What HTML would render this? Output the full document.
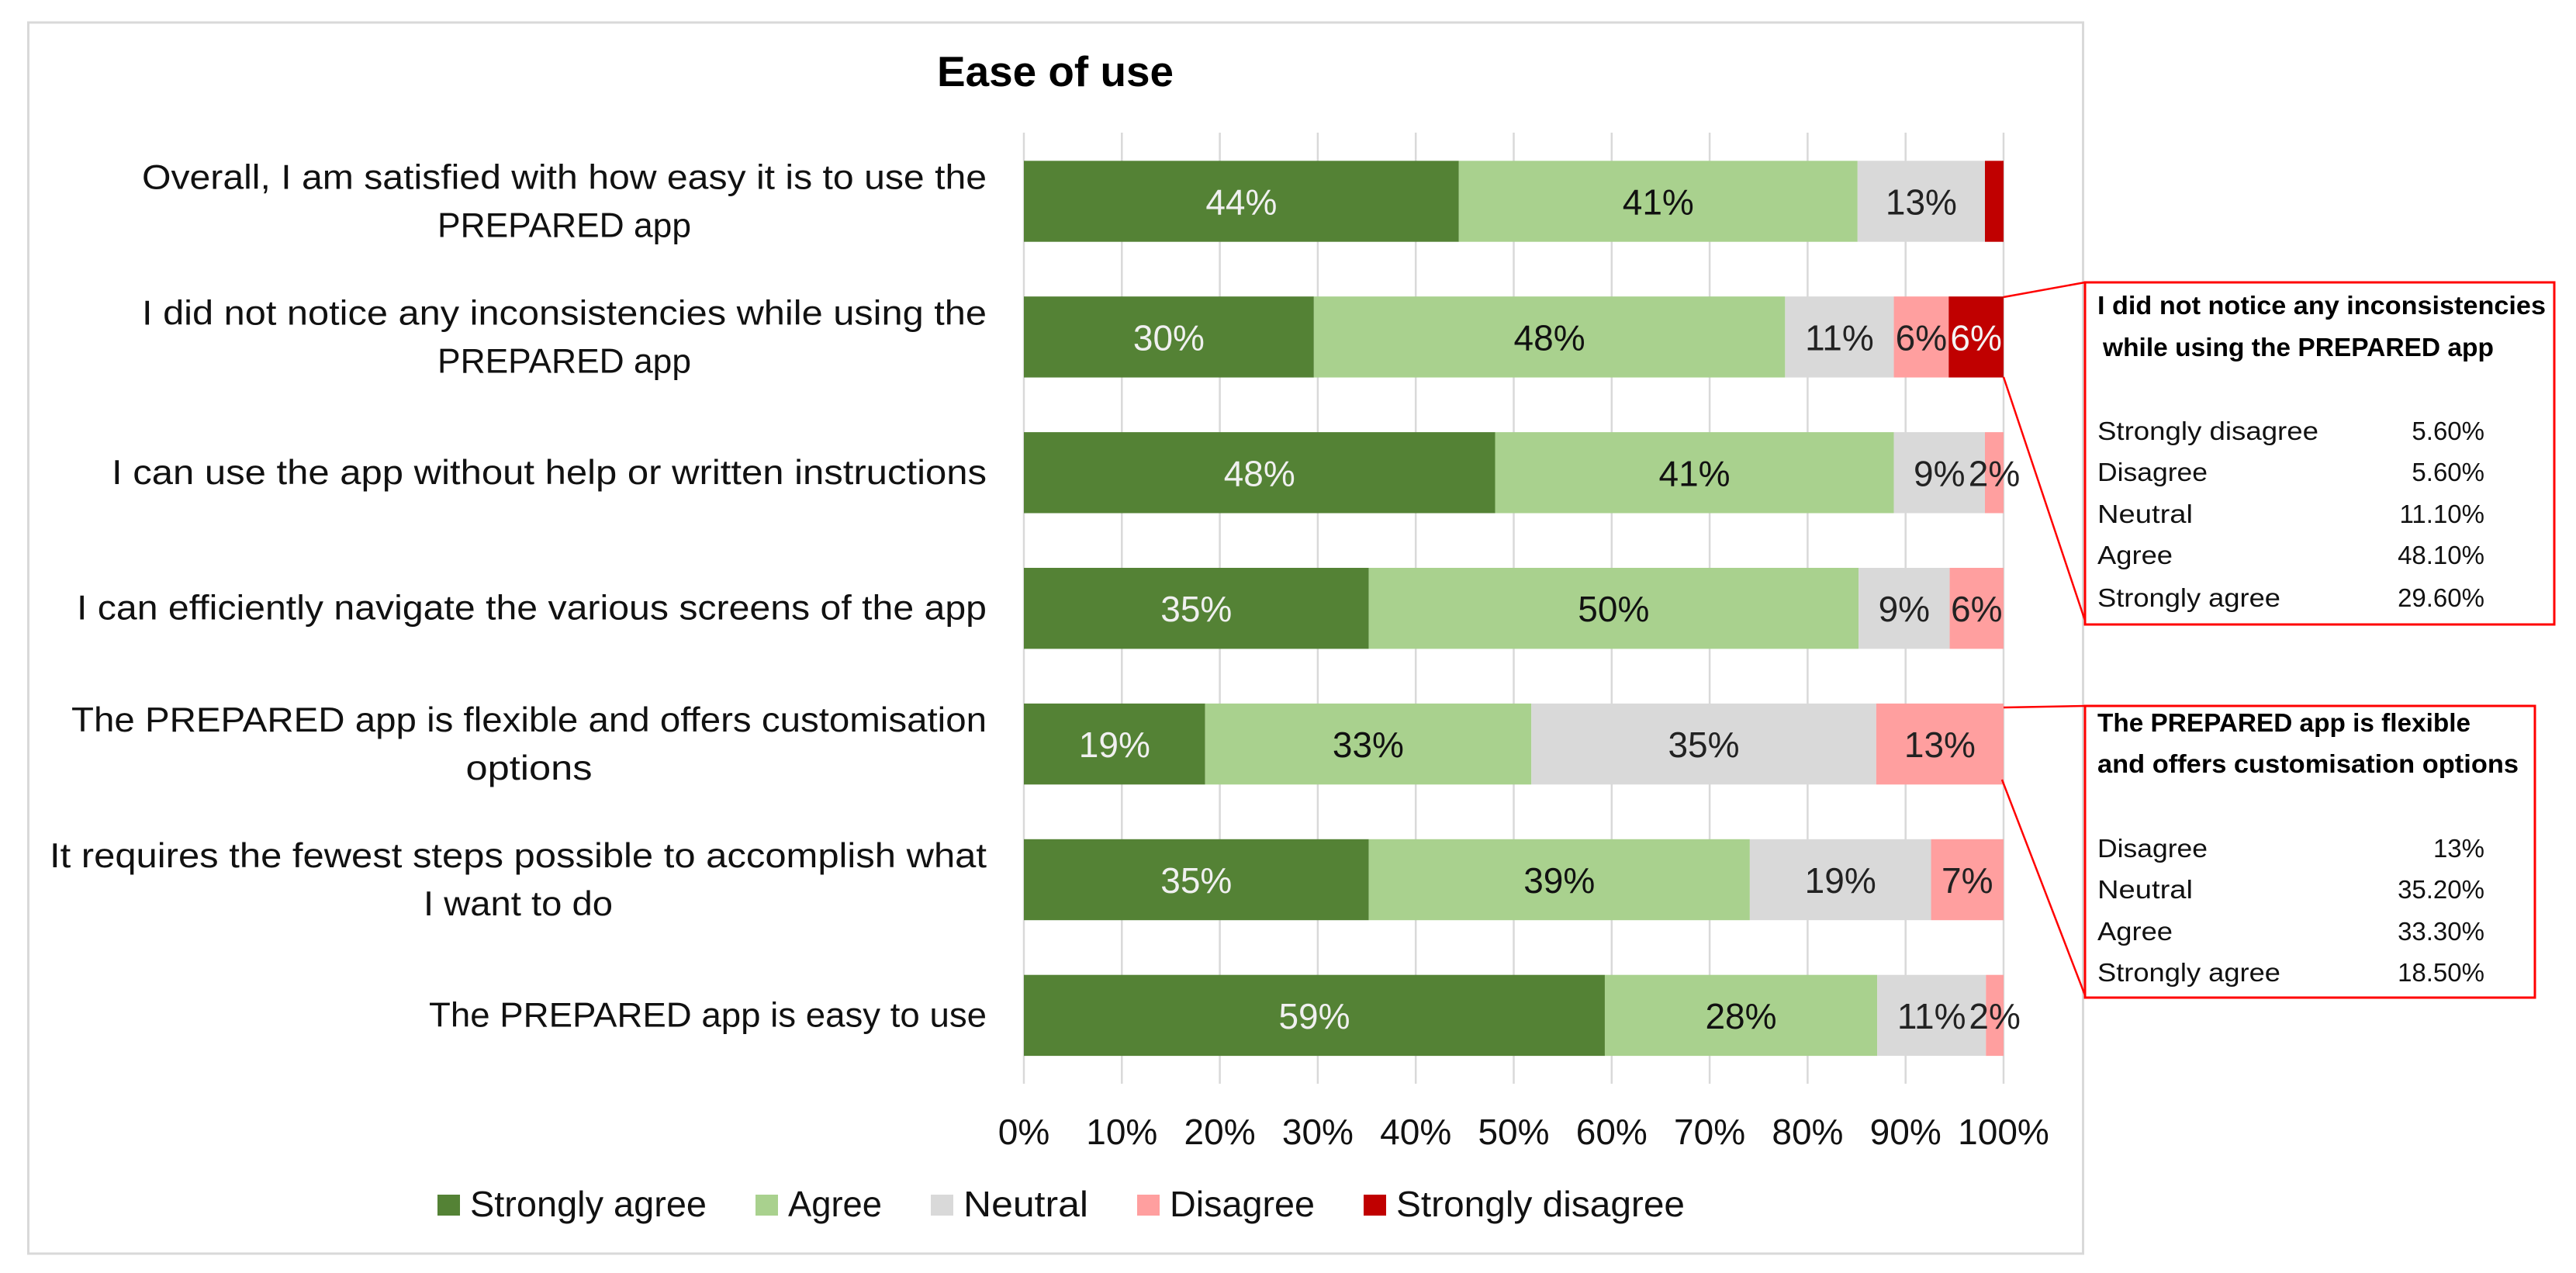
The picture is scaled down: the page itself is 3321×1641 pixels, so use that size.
<!DOCTYPE html>
<html lang="en">
<head>
<meta charset="utf-8">
<title>Ease of use</title>
<style>
  html, body { margin: 0; padding: 0; background: #fff; }
  svg { display: block; font-family: "Liberation Sans", Arial, sans-serif; }
  .callout-text { font-family: "Liberation Sans", Arial, sans-serif; font-size: 33px; fill: #111; }
  .callout-title { font-weight: 700; fill: #000; }
</style>
</head>
<body>
<svg id="chart" xmlns="http://www.w3.org/2000/svg" width="3321" height="1641" viewBox="0 0 3321 1641">
  <rect x="0" y="0" width="3321" height="1641" fill="#ffffff"/>
  <rect x="36.5" y="29" width="2649" height="1587" fill="#ffffff" stroke="#d9d9d9" stroke-width="3"/>
  <text x="1208" y="111" font-size="55" font-weight="700" fill="#000" textLength="305" lengthAdjust="spacingAndGlyphs">Ease of use</text>
  <g id="grid"></g>
  <g id="bars"></g>
  <g id="categories"></g>
  <g id="ticks"></g>
  <g id="legend"></g>

  <g>
    <line x1="2583" y1="383" x2="2688" y2="364" stroke="#ff0000" stroke-width="2.5"/>
    <line x1="2583" y1="486" x2="2688" y2="800" stroke="#ff0000" stroke-width="2.5"/>
    <rect x="2688" y="364" width="605" height="441" fill="#ffffff" stroke="#ff0000" stroke-width="3"/>
    <text class="callout-text callout-title" x="2704" y="405" textLength="578" lengthAdjust="spacingAndGlyphs">I did not notice any inconsistencies</text>
    <text class="callout-text callout-title" x="2711" y="459" textLength="504" lengthAdjust="spacingAndGlyphs">while using the PREPARED app</text>
    <text class="callout-text" x="2704" y="567" textLength="285" lengthAdjust="spacingAndGlyphs">Strongly disagree</text>
    <text class="callout-text" x="3203" y="567" text-anchor="end">5.60%</text>
    <text class="callout-text" x="2704" y="620" textLength="142" lengthAdjust="spacingAndGlyphs">Disagree</text>
    <text class="callout-text" x="3203" y="620" text-anchor="end">5.60%</text>
    <text class="callout-text" x="2704" y="674" textLength="123" lengthAdjust="spacingAndGlyphs">Neutral</text>
    <text class="callout-text" x="3203" y="674" text-anchor="end">11.10%</text>
    <text class="callout-text" x="2704" y="727" textLength="97" lengthAdjust="spacingAndGlyphs">Agree</text>
    <text class="callout-text" x="3203" y="727" text-anchor="end">48.10%</text>
    <text class="callout-text" x="2704" y="782" textLength="236" lengthAdjust="spacingAndGlyphs">Strongly agree</text>
    <text class="callout-text" x="3203" y="782" text-anchor="end">29.60%</text>
  </g>

  <g>
    <line x1="2583" y1="912" x2="2688" y2="910" stroke="#ff0000" stroke-width="2.5"/>
    <line x1="2581" y1="1005" x2="2688" y2="1283" stroke="#ff0000" stroke-width="2.5"/>
    <rect x="2688" y="910" width="580" height="376" fill="#ffffff" stroke="#ff0000" stroke-width="3"/>
    <text class="callout-text callout-title" x="2704" y="943" textLength="481" lengthAdjust="spacingAndGlyphs">The PREPARED app is flexible</text>
    <text class="callout-text callout-title" x="2704" y="996" textLength="543" lengthAdjust="spacingAndGlyphs">and offers customisation options</text>
    <text class="callout-text" x="2704" y="1105" textLength="142" lengthAdjust="spacingAndGlyphs">Disagree</text>
    <text class="callout-text" x="3203" y="1105" text-anchor="end">13%</text>
    <text class="callout-text" x="2704" y="1158" textLength="123" lengthAdjust="spacingAndGlyphs">Neutral</text>
    <text class="callout-text" x="3203" y="1158" text-anchor="end">35.20%</text>
    <text class="callout-text" x="2704" y="1212" textLength="97" lengthAdjust="spacingAndGlyphs">Agree</text>
    <text class="callout-text" x="3203" y="1212" text-anchor="end">33.30%</text>
    <text class="callout-text" x="2704" y="1265" textLength="236" lengthAdjust="spacingAndGlyphs">Strongly agree</text>
    <text class="callout-text" x="3203" y="1265" text-anchor="end">18.50%</text>
  </g>
</svg>

<script>
const categories = [
  ["Overall, I am satisfied with how easy it is to use the", "PREPARED app"],
  ["I did not notice any inconsistencies while using the", "PREPARED app"],
  ["I can use the app without help or written instructions"],
  ["I can efficiently navigate the various screens of the app"],
  ["The PREPARED app is flexible and offers customisation", "options"],
  ["It requires the fewest steps possible to accomplish what", "I want to do"],
  ["The PREPARED app is easy to use"]
];
const seriesNames = ["Strongly agree", "Agree", "Neutral", "Disagree", "Strongly disagree"];
const stronglyAgree = [44.4, 29.6, 48.1, 35.2, 18.5, 35.2, 59.3];
const agree = [40.7, 48.1, 40.7, 50.0, 33.3, 38.9, 27.8];
const neutral = [13.0, 11.1, 9.3, 9.3, 35.2, 18.5, 11.1];
const disagree = [0, 5.6, 1.9, 5.5, 13.0, 7.4, 1.8];
const stronglyDisagree = [1.9, 5.6, 0, 0, 0, 0, 0];
const tickValues = [0, 10, 20, 30, 40, 50, 60, 70, 80, 90, 100];

const seriesValues = [stronglyAgree, agree, neutral, disagree, stronglyDisagree];
const seriesColors = ["#548235", "#A9D18E", "#D9D9D9", "#FF9F9F", "#C00000"];
const seriesTextColors = ["#f0f0f0", "#111111", "#222222", "#222222", "#f4f4f4"];
const seriesKeys = ["strongly-agree", "agree", "neutral", "disagree", "strongly-disagree"];
const seriesLabelMinimum = [0, 0, 0, 0, 3];

/* Text-fit lookup: the original typeface is not installed, so rendered line widths are matched by string. */
const textFit = {
  "Overall, I am satisfied with how easy it is to use the": 1089,
  "I did not notice any inconsistencies while using the": 1089,
  "PREPARED app": 327,
  "I can use the app without help or written instructions": 1128,
  "I can efficiently navigate the various screens of the app": 1173,
  "The PREPARED app is flexible and offers customisation": 1180,
  "options": 163,
  "It requires the fewest steps possible to accomplish what": 1208,
  "I want to do": 244,
  "The PREPARED app is easy to use": 719,
  "Strongly agree": 305,
  "Agree": 121,
  "Neutral": 161,
  "Disagree": 187,
  "Strongly disagree": 372
};

const NS = "http://www.w3.org/2000/svg";
const plot = { left: 1320, right: 2583, top: 171, bottom: 1397, firstCenter: 259.5, pitch: 174.9 };
const barHeight = 104.4;
const labelSize = 44.5;
const valueSize = 46;

function xScale(v) { return plot.left + (v / 100) * (plot.right - plot.left); }
function bandCenter(i) { return plot.firstCenter + i * plot.pitch; }
function make(tag, attrs, parent, text) {
  const el = document.createElementNS(NS, tag);
  for (const k in attrs) el.setAttribute(k, attrs[k]);
  if (text !== undefined) el.textContent = text;
  parent.appendChild(el);
  return el;
}
function fit(el, text) {
  const w = textFit[text];
  if (w) {
    el.setAttribute("textLength", w);
    el.setAttribute("lengthAdjust", "spacingAndGlyphs");
    return w;
  }
  return el.getComputedTextLength();
}

const gridGroup = document.getElementById("grid");
const tickGroup = document.getElementById("ticks");
tickValues.forEach(function (t) {
  const line = make("line", { x1: xScale(t), x2: xScale(t), y1: plot.top, y2: plot.bottom, stroke: "#d9d9d9", "stroke-width": 2.5 }, gridGroup);
  
  
  const label = make("text", { x: xScale(t), y: 1475, "text-anchor": "middle", "font-size": valueSize, fill: "#111" }, tickGroup, t + "%");
  
  
});

const barGroup = document.getElementById("bars");
const labelLayer = [];
categories.forEach(function (cat, i) {
  let cumulative = 0;
  const cy = bandCenter(i);
  seriesValues.forEach(function (values, s) {
    const v = values[i];
    if (v > 0) {
      const x0 = xScale(cumulative);
      const x1 = xScale(cumulative + v);
      const rect = make("rect", { x: x0, y: cy - barHeight / 2, width: x1 - x0, height: barHeight, fill: seriesColors[s] }, barGroup);
      
      
      if (v >= seriesLabelMinimum[s]) {
        labelLayer.push({ x: (x0 + x1) / 2, y: cy + 17, text: Math.round(v) + "%", fill: seriesTextColors[s] });
      }
    }
    cumulative += v;
  });
});
labelLayer.forEach(function (d) {
  const label = make("text", { x: d.x, y: d.y, "text-anchor": "middle", "font-size": valueSize, fill: d.fill }, barGroup, d.text);
  
  
});

const categoryGroup = document.getElementById("categories");
const labelRight = 1272;
categories.forEach(function (lines, i) {
  const cy = bandCenter(i);
  const first = make("text", { x: labelRight, y: lines.length > 1 ? cy - 16 : cy + 14.5, "font-size": labelSize, fill: "#111" }, categoryGroup, lines[0]);
  
  
  const w1 = fit(first, lines[0]);
  first.setAttribute("x", labelRight - w1);
  if (lines.length > 1) {
    const second = make("text", { x: labelRight, y: cy + 46, "font-size": labelSize, fill: "#111" }, categoryGroup, lines[1]);
    
    
    const w2 = fit(second, lines[1]);
    second.setAttribute("x", labelRight - w1 / 2 - w2 / 2);
  }
});

const legendGroup = document.getElementById("legend");
let legendX = 564;
seriesNames.forEach(function (name, s) {
  const swatch = make("rect", { x: legendX, y: 1540, width: 29, height: 27, fill: seriesColors[s] }, legendGroup);
  
  
  const label = make("text", { x: legendX + 42, y: 1568, "font-size": valueSize, fill: "#111" }, legendGroup, name);
  
  
  const w = fit(label, name);
  legendX += 42 + w + 63;
});
</script>
</body>
</html>
